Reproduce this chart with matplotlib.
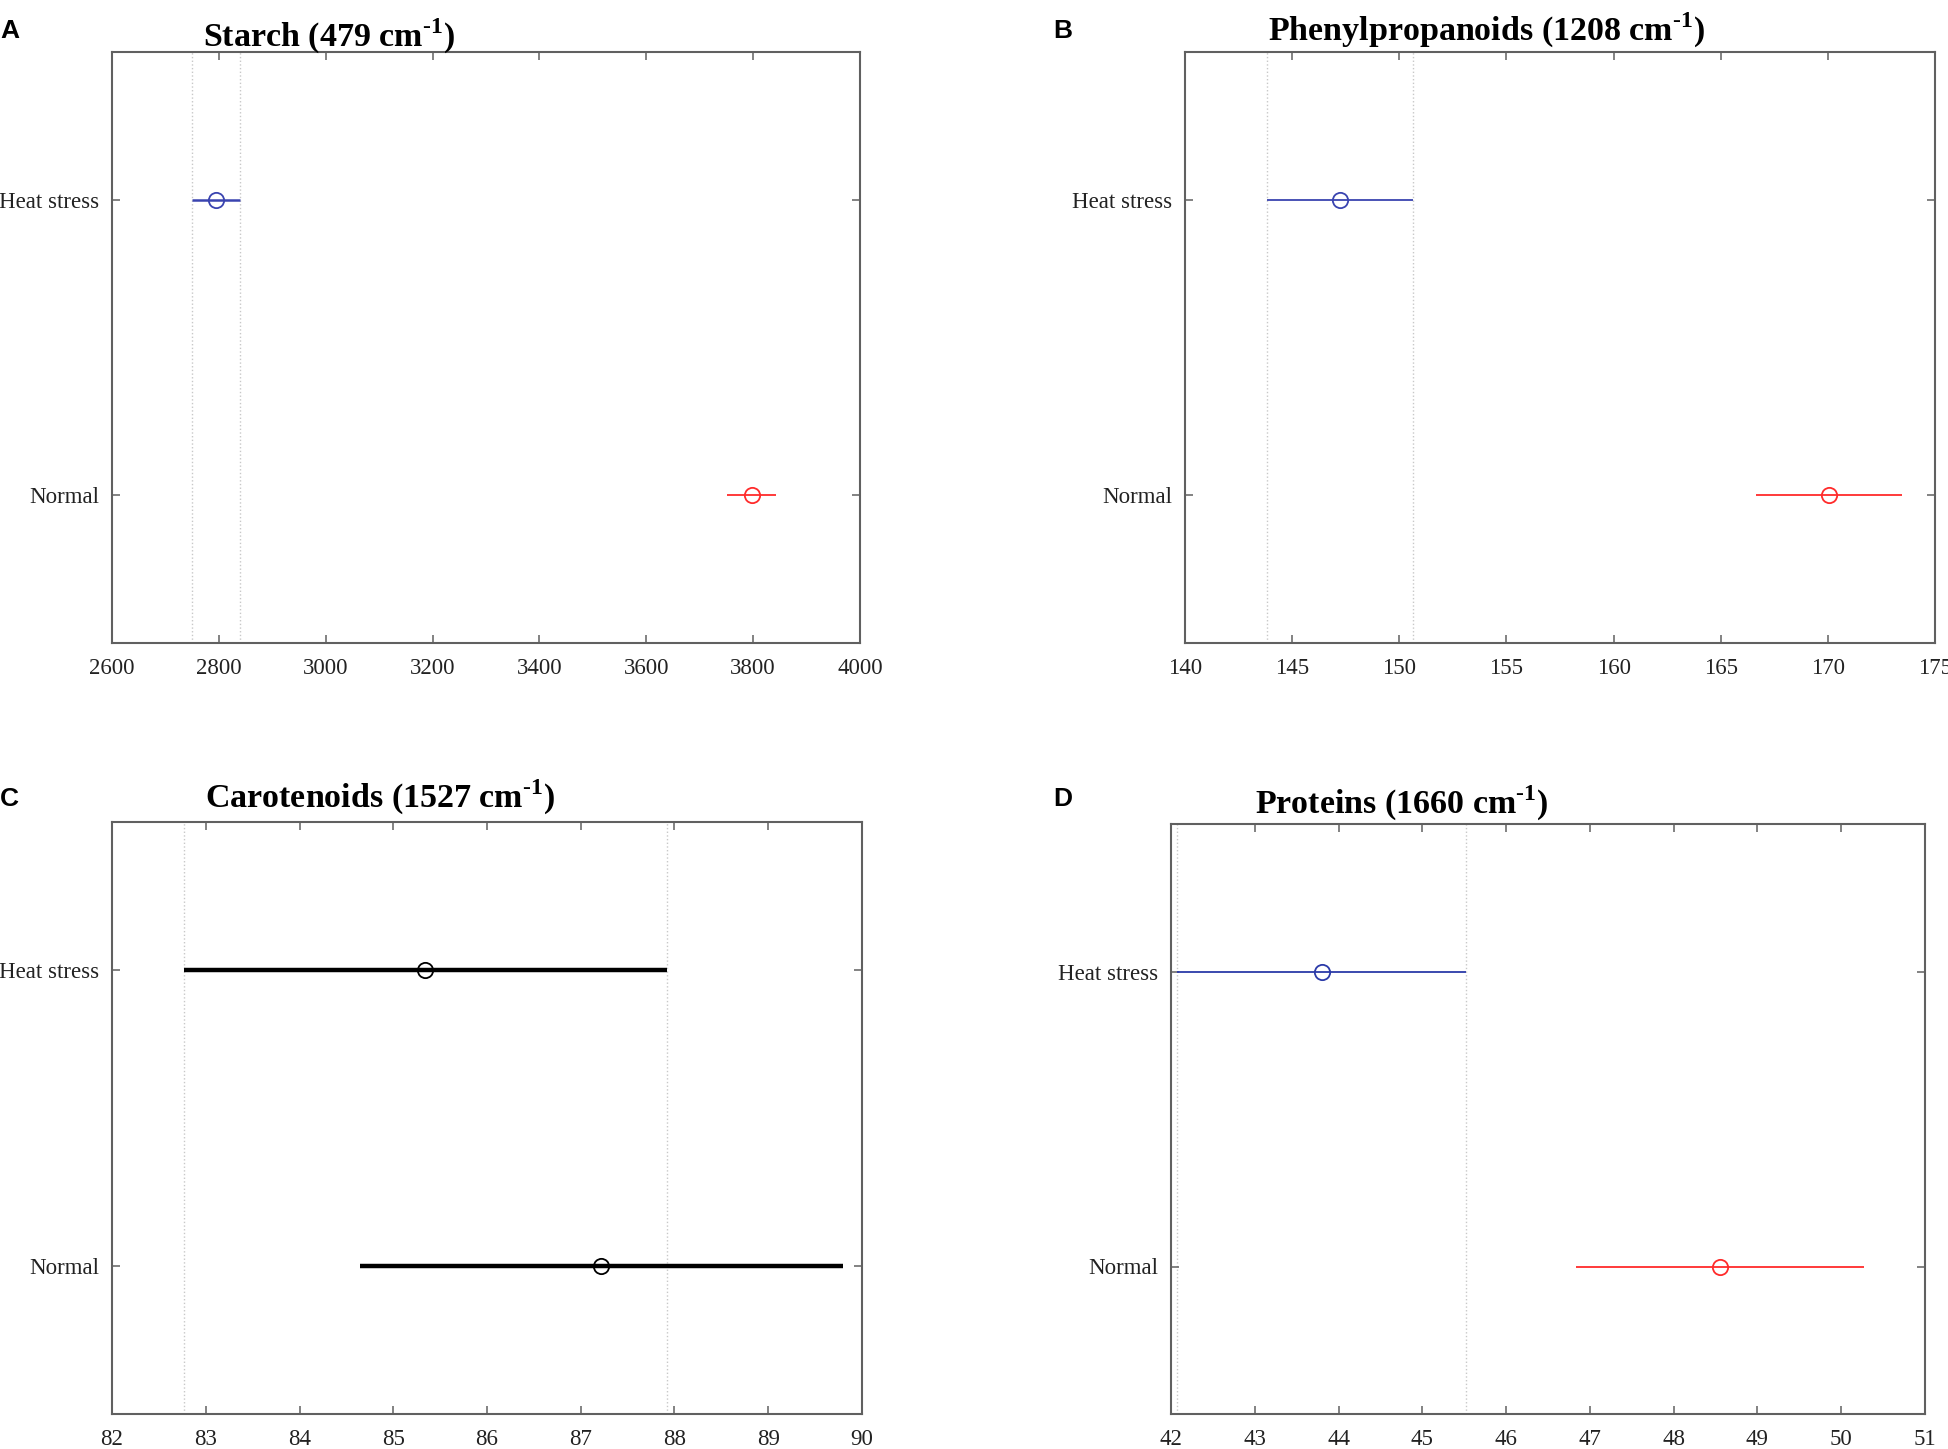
import matplotlib
matplotlib.use("Agg")
import matplotlib.pyplot as plt

plt.rcParams['font.family'] = ['Liberation Serif', 'DejaVu Serif']
plt.rcParams['mathtext.fontset'] = 'custom'
plt.rcParams['mathtext.rm'] = 'Liberation Serif'
plt.rcParams['mathtext.bf'] = 'Liberation Serif:bold'

groups = ["Normal", "Heat stress"]
group_y = [1, 2]

titles = [r"Starch (479 cm$^{\mathbf{\text{-}1}}$)",
          r"Phenylpropanoids (1208 cm$^{\mathbf{\text{-}1}}$)",
          r"Carotenoids (1527 cm$^{\mathbf{\text{-}1}}$)",
          r"Proteins (1660 cm$^{\mathbf{\text{-}1}}$)"]
letters = ["A", "B", "C", "D"]

# group means [Normal, Heat stress] and comparison intervals
starch_mean = [3797, 2795]
starch_lo = [3752, 2750]
starch_hi = [3842, 2840]

phenyl_mean = [170.05, 147.25]
phenyl_lo = [166.65, 143.85]
phenyl_hi = [173.45, 150.65]

carot_mean = [87.22, 85.34]
carot_lo = [84.65, 82.77]
carot_hi = [89.8, 87.92]

protein_mean = [48.55, 43.8]
protein_lo = [46.83, 42.07]
protein_hi = [50.27, 45.52]

xlims = [(2600, 4000), (140, 175), (82, 90), (42, 51)]
xticks = [list(range(2600, 4001, 200)), list(range(140, 176, 5)),
          list(range(82, 91, 1)), list(range(42, 52, 1))]

panels = [(starch_mean, starch_lo, starch_hi),
          (phenyl_mean, phenyl_lo, phenyl_hi),
          (carot_mean, carot_lo, carot_hi),
          (protein_mean, protein_lo, protein_hi)]

# colours: [Normal, Heat stress], line widths
colors = [["#ff2b2b", "#3a44b0"], ["#ff2b2b", "#3a44b0"],
          ["#000000", "#000000"], ["#ff2b2b", "#2b3aa8"]]
lws = [[1.3, 1.8], [1.3, 1.3], [3.2, 3.2], [1.3, 1.3]]

W, H = 1949, 1449
axes_px = [(112, 52, 860, 643), (1185, 52, 1935, 643),
           (112, 822, 862, 1414), (1171, 824, 1925, 1414)]
title_px = [(203, 47), (1268, 41), (205, 808), (1255, 814)]
letter_px = [(0, 38), (1053, 38), (0, 806), (1053, 806)]

fig = plt.figure(figsize=(W / 100, H / 100), dpi=100)

for i in range(4):
    l, t, r, b = axes_px[i]
    ax = fig.add_axes([l / W, 1 - b / H, (r - l) / W, (b - t) / H])
    mean, lo, hi = panels[i]
    for k in range(2):
        ax.plot([lo[k], hi[k]], [group_y[k], group_y[k]], color=colors[i][k],
                lw=lws[i][k], solid_capstyle='butt', zorder=3)
        ax.plot(mean[k], group_y[k], 'o', mfc='none', mec=colors[i][k],
                ms=11, mew=1.3, zorder=4)
    # dotted lines at the bounds of the heat stress interval
    ax.axvline(lo[1], color="#c8c8c8", ls=':', lw=1.0, zorder=1)
    ax.axvline(hi[1], color="#c8c8c8", ls=':', lw=1.0, zorder=1)

    ax.set_xlim(*xlims[i])
    ax.set_xticks(xticks[i])
    ax.set_ylim(0.5, 2.5)
    ax.set_yticks(group_y)
    ax.set_yticklabels(groups)
    for s in ax.spines.values():
        s.set_color("#606060")
        s.set_linewidth(1.5)
    ax.tick_params(direction='in', length=6, width=1.1, color="#606060",
                   top=True, right=True, labelsize=16.5, labelcolor="#222222")
    ax.tick_params(axis='x', pad=11)
    ax.tick_params(axis='y', pad=9)

    fig.text(title_px[i][0] / W, 1 - title_px[i][1] / H, titles[i],
             fontsize=24.5, fontweight='bold', ha='left', va='baseline')
    fig.text(letter_px[i][0] / W, 1 - letter_px[i][1] / H, letters[i],
             fontsize=19, fontweight='bold', family='Liberation Sans',
             ha='left', va='baseline')

fig.savefig("out.png", dpi=100, facecolor='white')
